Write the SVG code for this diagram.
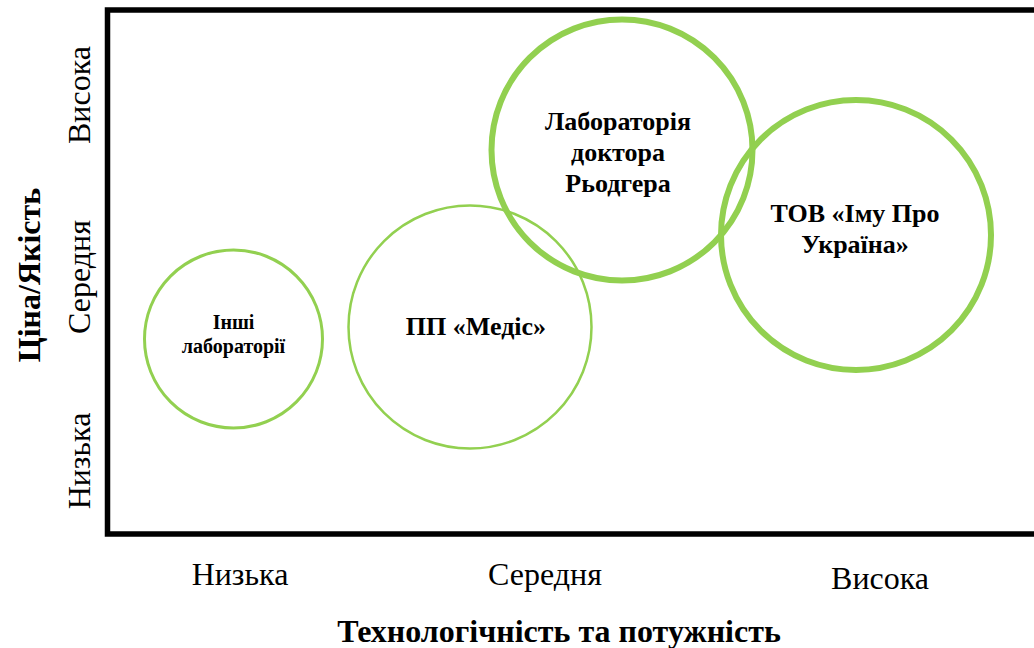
<svg xmlns="http://www.w3.org/2000/svg" width="1034" height="648" viewBox="0 0 1034 648">
<style>
.frame{fill:none;stroke:#000;stroke-width:5.5}
.c{fill:none;stroke:#92D050}
text{font-family:'Liberation Serif','DejaVu Serif',serif;fill:#000;text-anchor:middle}
.lbl{font-weight:bold}
.ax{font-size:32px}
.axb{font-size:32px;font-weight:bold}
</style>
<rect width="1034" height="648" fill="#fff"/>
<g id="frame">
<path class="frame" d="M1040 10 H107.5 V534 H1040"/>
</g>
<g id="axis-y">
<text class="ax" transform="translate(90,95) rotate(-90)">Висока</text>
<text class="ax" transform="translate(90,277) rotate(-90)">Середня</text>
<text class="ax" transform="translate(90,461) rotate(-90)">Низька</text>
<text class="axb" transform="translate(40,275) rotate(-90)">Ціна/Якість</text>
</g>
<g id="axis-x">
<text class="ax" x="240" y="585">Низька</text>
<text class="ax" x="545" y="585">Середня</text>
<text class="ax" x="880" y="589">Висока</text>
<text class="axb" x="559" y="642">Технологічність та потужність</text>
</g>
<g id="connectors"></g>
<g id="node-inshi">
<circle class="c" cx="233.5" cy="339" r="89" stroke-width="3"/>
<text class="lbl" x="233.5" y="329" font-size="20">Інші</text>
<text class="lbl" x="233.5" y="353" font-size="20">лабораторії</text>
</g>
<g id="node-medis">
<circle class="c" cx="470" cy="327" r="121.5" stroke-width="2.5"/>
<text class="lbl" x="476" y="335" font-size="26">ПП «Медіс»</text>
</g>
<g id="node-rodger">
<circle class="c" cx="622" cy="150" r="130.5" stroke-width="6"/>
<text class="lbl" x="618" y="130" font-size="26">Лабораторія</text>
<text class="lbl" x="618" y="161" font-size="26">доктора</text>
<text class="lbl" x="618" y="192" font-size="26">Рьодгера</text>
</g>
<g id="node-imu">
<circle class="c" cx="856" cy="235" r="135" stroke-width="6"/>
<text class="lbl" x="855" y="222" font-size="26">ТОВ «Іму Про</text>
<text class="lbl" x="855" y="253" font-size="26">Україна»</text>
</g>
</svg>
